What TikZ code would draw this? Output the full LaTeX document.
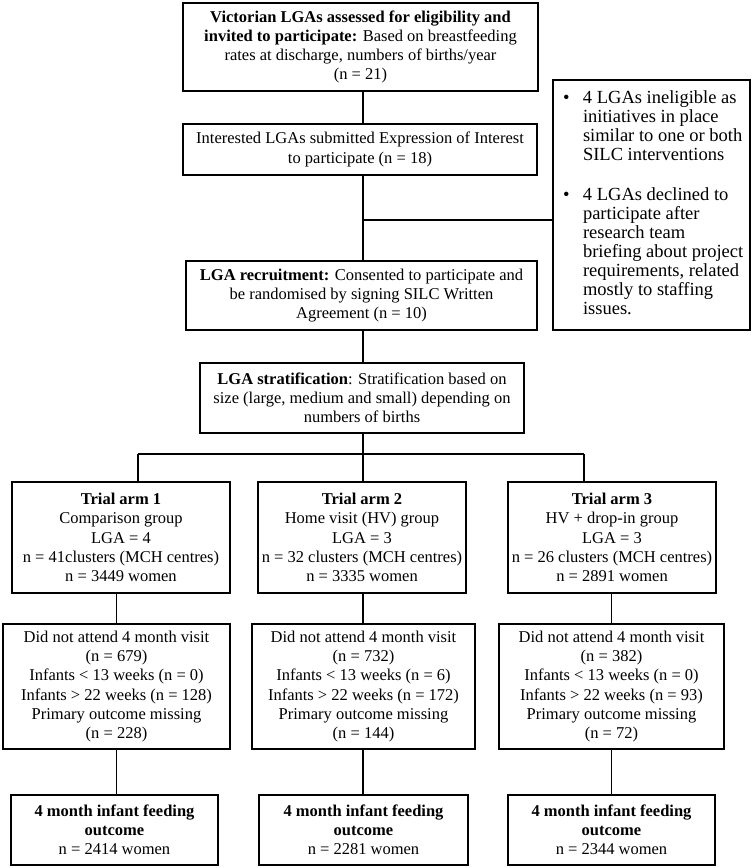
\documentclass[tikz,border=0pt]{standalone}
\usepackage{fontspec}
\setmainfont{Liberation Serif}
\usepackage{array}
\begin{document}
\begin{tikzpicture}[x=1pt,y=-1pt,
  box/.style={draw, line width=1.7pt, align=center, inner sep=0pt, font=\fontsize{16.5}{19.2}\selectfont},
  conn/.style={line width=1.7pt}]
\useasboundingbox (0,0) rectangle (752,868);
\node[box, minimum width=355, minimum height=88] (top) at (360.5,47)
 {\textbf{Victorian LGAs assessed for eligibility and}\\\textbf{invited to participate:} Based on breastfeeding\\rates at discharge, numbers of births/year\\(n = 21)};
\node[box, minimum width=354, minimum height=51] (eoi) at (360,149.5)
 {Interested LGAs submitted Expression of Interest\\to participate (n = 18)};
\node[box, minimum width=351, minimum height=69] (recruit) at (361.5,295.5)
 {\textbf{LGA recruitment:} Consented to participate and\\be randomised by signing SILC Written\\Agreement (n = 10)};
\node[box, minimum width=324, minimum height=70] (strat) at (362,398)
 {\textbf{LGA stratification}: Stratification based on\\size (large, medium and small) depending on\\numbers of births};
\node[box, minimum width=197, minimum height=250, align=left, font=\fontsize{18.5}{19}\selectfont] (excl) at (651.5,205)
 {\hspace*{8pt}\begin{tabular}{@{}>{\raggedright\arraybackslash}p{20pt}@{}>{\raggedright\arraybackslash}p{165pt}@{}}
 •& 4 LGAs ineligible as\newline initiatives in place\newline similar to one or both\newline SILC interventions\\
 \noalign{\vskip 21pt}
 •& 4 LGAs declined to\newline participate after\newline research team\newline briefing about project\newline requirements, related\newline mostly to staffing\newline issues.
 \end{tabular}};
\node[box, minimum width=218, minimum height=111] (arm1) at (121,537.5)
 {\textbf{Trial arm 1}\\Comparison group\\LGA = 4\\n = 41clusters (MCH centres)\\n = 3449 women};
\node[box, minimum width=208, minimum height=111] (arm2) at (362,537.5)
 {\textbf{Trial arm 2}\\Home visit (HV) group\\LGA = 3\\n = 32 clusters (MCH centres)\\n = 3335 women};
\node[box, minimum width=208, minimum height=111] (arm3) at (612,537.5)
 {\textbf{Trial arm 3}\\HV + drop-in group\\LGA = 3\\n = 26 clusters (MCH centres)\\n = 2891 women};
\node[box, minimum width=227, minimum height=125] (dna1) at (116.5,686.5)
 {Did not attend 4 month visit\\(n = 679)\\Infants < 13 weeks (n = 0)\\Infants > 22 weeks (n = 128)\\Primary outcome missing\\(n = 228)};
\node[box, minimum width=223, minimum height=125] (dna2) at (363.5,686.5)
 {Did not attend 4 month visit\\(n = 732)\\Infants < 13 weeks (n = 6)\\Infants > 22 weeks (n = 172)\\Primary outcome missing\\(n = 144)};
\node[box, minimum width=225, minimum height=125] (dna3) at (611.5,686.5)
 {Did not attend 4 month visit\\(n = 382)\\Infants < 13 weeks (n = 0)\\Infants > 22 weeks (n = 93)\\Primary outcome missing\\(n = 72)};
\node[box, minimum width=207, minimum height=70] (out1) at (114.5,830)
 {\textbf{4 month infant feeding}\\\textbf{outcome}\\n = 2414 women};
\node[box, minimum width=209, minimum height=70] (out2) at (363.5,830)
 {\textbf{4 month infant feeding}\\\textbf{outcome}\\n = 2281 women};
\node[box, minimum width=207, minimum height=70] (out3) at (611.5,830)
 {\textbf{4 month infant feeding}\\\textbf{outcome}\\n = 2344 women};
\coordinate (jx) at (363,220);
\coordinate (jL) at (138,454);
\coordinate (jR) at (584,454);
\draw[conn] (top.south -| jx) -- (eoi.north -| jx);
\draw[conn] (eoi.south -| jx) -- (recruit.north -| jx);
\draw[conn] (jx) -- (jx -| excl.west);
\draw[conn] (recruit.south -| jx) -- (strat.north -| jx);
\draw[conn] (strat.south -| jx) -- (arm2.north -| jx);
\draw[conn] (jL) -- (jR);
\draw[conn] (jL) -- (jL |- arm1.north);
\draw[conn] (jR) -- (jR |- arm3.north);
\draw[conn] (dna1.north) -- (dna1.north |- arm1.south);
\draw[conn] (arm2.south -| jx) -- (dna2.north -| jx);
\draw[conn] (dna3.north) -- (dna3.north |- arm3.south);
\draw[conn] (dna1.south) -- (out1.north -| dna1.south);
\draw[conn] (dna2.south -| jx) -- (out2.north -| jx);
\draw[conn] (dna3.south) -- (out3.north -| dna3.south);
\end{tikzpicture}
\end{document}
